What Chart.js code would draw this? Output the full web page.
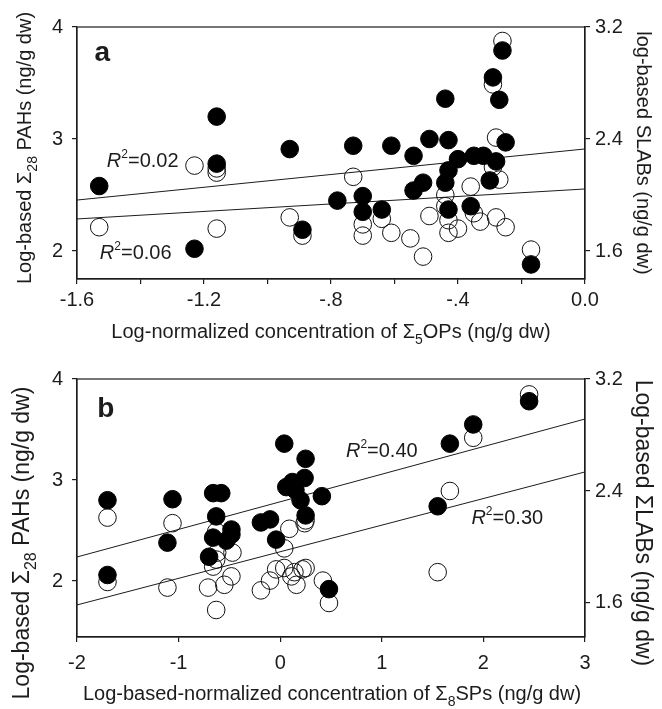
<!DOCTYPE html>
<html lang="en">

<head>
    <meta charset="UTF-8">
    <title>PAHs and LABs vs OPs / SPs</title>
    <script src="https://cdn.jsdelivr.net/npm/chart.js"></script>
    <style>
        body { margin: 0; background: #fff; }
        .panel { position: absolute; left: 0; width: 662px; }
        #boxA { top: 0; height: 345px; }
        #boxB { top: 345px; height: 364px; }
    </style>
</head>

<body>
    <div class="panel" id="boxA"><canvas id="chartA"></canvas></div>
    <div class="panel" id="boxB"><canvas id="chartB"></canvas></div>

    <script>
        // ---- data: [x, y] ----
        // panel a: x = log-normalized Σ5OPs
        const opsPah = [
            [-1.53, 2.58], [-1.16, 3.20], [-1.16, 2.78], [-1.23, 2.02], [-0.93, 2.91], [-0.89, 2.19],
            [-0.73, 2.94], [-0.61, 2.94], [-0.54, 2.85], [-0.49, 3.00], [-0.43, 2.99], [-0.25, 2.97],
            [-0.40, 2.82], [-0.43, 2.72], [-0.44, 2.61], [-0.51, 2.61], [-0.54, 2.54], [-0.35, 2.85],
            [-0.32, 2.85], [-0.28, 2.80], [-0.30, 2.63], [-0.78, 2.45], [-0.70, 2.49], [-0.70, 2.35],
            [-0.64, 2.37], [-0.43, 2.37], [-0.36, 2.40], [-0.17, 1.88], [-0.44, 3.36], [-0.27, 3.35],
            [-0.29, 3.55], [-0.26, 3.79]
        ];
        const opsLab = [
            [-1.53, 1.77], [-1.23, 2.21], [-1.16, 2.19], [-1.16, 2.16], [-1.16, 1.76], [-0.93, 1.84],
            [-0.89, 1.71], [-0.28, 2.41], [-0.73, 2.13], [-0.29, 2.20], [-0.27, 2.11], [-0.36, 2.06],
            [-0.44, 2.00], [-0.44, 1.92], [-0.49, 1.85], [-0.43, 1.82], [-0.40, 1.76], [-0.43, 1.73],
            [-0.35, 1.87], [-0.33, 1.81], [-0.28, 1.84], [-0.25, 1.77], [-0.70, 1.79], [-0.70, 1.71],
            [-0.64, 1.83], [-0.61, 1.73], [-0.55, 1.69], [-0.51, 1.56], [-0.17, 1.61], [-0.29, 2.79],
            [-0.26, 3.10]
        ];
        // regression lines (end points)
        const opsPahFit = [[-1.6, 2.455], [0.0, 2.911]];
        const opsLabFit = [[-1.6, 1.829], [0.0, 2.043]];

        // panel b: x = log-based-normalized Σ8SPs
        const spsPah = [
            [-1.70, 2.80], [-1.06, 2.81], [-1.11, 2.38], [-1.70, 2.06], [0.04, 3.36], [0.25, 3.21],
            [0.06, 2.93], [0.12, 2.98], [0.24, 3.02], [0.15, 2.90], [0.20, 2.80], [0.41, 2.84],
            [0.25, 2.65], [-0.66, 2.87], [-0.58, 2.87], [-0.63, 2.64], [-0.48, 2.51], [-0.48, 2.46],
            [-0.53, 2.40], [-0.66, 2.43], [-0.19, 2.58], [-0.10, 2.61], [-0.04, 2.41], [-0.70, 2.24],
            [0.48, 1.92], [2.45, 3.78], [1.90, 3.55], [1.67, 3.36], [1.55, 2.74]
        ];
        const spsLab = [
            [-1.70, 2.21], [-1.06, 2.17], [-1.70, 1.75], [-1.11, 1.71], [0.09, 2.13], [0.04, 1.99],
            [0.25, 2.19], [0.24, 2.17], [-0.63, 2.11], [-0.47, 1.96], [-0.62, 1.96], [-0.63, 1.91],
            [-0.66, 1.86], [-0.48, 1.79], [-0.55, 1.73], [-0.71, 1.71], [-0.63, 1.55], [-0.19, 1.69],
            [-0.10, 1.76], [-0.04, 1.84], [0.04, 1.85], [0.11, 1.79], [0.16, 1.73], [0.14, 1.82],
            [0.22, 1.84], [0.25, 1.85], [0.42, 1.76], [0.48, 1.60], [2.45, 3.09], [1.90, 2.78],
            [1.67, 2.40], [1.55, 1.82]
        ];
        const spsPahFit = [[-2, 2.238], [3, 3.604]];
        const spsLabFit = [[-2, 1.586], [3, 2.536]];

        // tick values and labels
        const xTicksA = [-1.6, -1.4, -1.2, -1.0, -0.8, -0.6, -0.4, -0.2, 0.0];
        const xLabelsA = ['-1.6', '', '-1.2', '', '-.8', '', '-.4', '', '0.0'];
        const xTicksB = [-2, -1, 0, 1, 2, 3];
        const xLabelsB = ['-2', '-1', '0', '1', '2', '3'];
        const pahTicks = [2, 3, 4];
        const labTicks = [1.6, 2.4, 3.2];
        const labTickLabels = ['1.6', '2.4', '3.2'];

        const FONT = '"Liberation Sans", Arial, Helvetica, sans-serif';
        const INK = '#1c1c1c';

        function toPts(arr) { return arr.map(p => ({ x: p[0], y: p[1] })); }

        // draw a row of text pieces (for sub/superscripts and italics)
        function drawRuns(ctx, runs, x, y, rot, align) {
            ctx.save();
            ctx.translate(x, y);
            ctx.rotate(rot || 0);
            ctx.fillStyle = INK;
            ctx.textBaseline = 'alphabetic';
            ctx.textAlign = 'left';
            const fontOf = r => (r.italic ? 'italic ' : '') + (r.bold ? 'bold ' : '') + r.size + 'px ' + FONT;
            let total = 0;
            runs.forEach(r => { ctx.font = fontOf(r); r.w = ctx.measureText(r.t).width; total += r.w; });
            let cx = align === 'left' ? 0 : -total / 2;
            runs.forEach(r => {
                ctx.font = fontOf(r);
                ctx.fillText(r.t, cx, r.dy || 0);
                cx += r.w;
            });
            ctx.restore();
        }

        function r2(val, size) {
            return [
                { t: 'R', size: size, italic: true },
                { t: '2', size: Math.round(size * 0.62), dy: -9 },
                { t: '=' + val, size: size }
            ];
        }

        // text items: data anchored (at: [x, y]) or pixel anchored (px: [x, y])
        function textPlugin(items) {
            return {
                id: 'texts',
                afterDraw(chart) {
                    const ctx = chart.ctx, ca = chart.chartArea;
                    ctx.save();
                    ctx.strokeStyle = INK;
                    ctx.lineWidth = 1.2;
                    ctx.strokeRect(ca.left, ca.top, ca.right - ca.left, ca.bottom - ca.top);
                    ctx.restore();
                    items.forEach(it => {
                        let x, y;
                        if (it.at) {
                            x = chart.scales.x.getPixelForValue(it.at[0]);
                            y = chart.scales.y.getPixelForValue(it.at[1]);
                        } else {
                            x = it.px[0];
                            y = it.px[1];
                        }
                        drawRuns(ctx, it.runs, x, y, it.rot, it.align);
                    });
                }
            };
        }

        function fixSize(w, h) {
            return function (scale) {
                if (w !== undefined) scale.width = w;
                if (h !== undefined) scale.height = h;
            };
        }

        function makeChart(id, cfg) {
            const tickFont = { family: FONT, size: 20 };
            const gridOpts = { display: true, drawOnChartArea: false, drawTicks: true, tickLength: 5, color: INK, lineWidth: 1.2 };
            const borderOpts = { display: true, color: INK, width: 1.2 };
            return new Chart(document.getElementById(id), {
                data: {
                    datasets: [
                        {
                            type: 'scatter', label: 'PAHs', data: toPts(cfg.pah), yAxisID: 'y',
                            backgroundColor: '#000', borderColor: '#000', borderWidth: 1, pointRadius: 8.8
                        },
                        {
                            type: 'scatter', label: 'LABs', data: toPts(cfg.lab), yAxisID: 'y2',
                            backgroundColor: 'rgba(255,255,255,0)', borderColor: '#111', borderWidth: 1, pointRadius: 8.8
                        },
                        {
                            type: 'line', label: 'PAHs fit', data: toPts(cfg.pahFit), yAxisID: 'y',
                            borderColor: INK, borderWidth: 1, pointRadius: 0, fill: false, tension: 0
                        },
                        {
                            type: 'line', label: 'LABs fit', data: toPts(cfg.labFit), yAxisID: 'y2',
                            borderColor: INK, borderWidth: 1, pointRadius: 0, fill: false, tension: 0
                        }
                    ]
                },
                options: {
                    responsive: true,
                    maintainAspectRatio: false,
                    animation: false,
                    layout: { padding: { top: cfg.padTop, left: 0, right: 0, bottom: 0 } },
                    plugins: { legend: { display: false }, tooltip: { enabled: false } },
                    scales: {
                        x: {
                            type: 'linear', min: cfg.xTicks[0], max: cfg.xTicks[cfg.xTicks.length - 1],
                            afterBuildTicks: s => { s.ticks = cfg.xTicks.map(v => ({ value: v })); },
                            afterFit: fixSize(undefined, cfg.xHeight),
                            ticks: {
                                font: tickFont, color: INK, padding: cfg.xPad, maxRotation: 0, autoSkip: false,
                                callback: (v, i) => cfg.xLabels[i]
                            },
                            grid: gridOpts, border: borderOpts
                        },
                        y: {
                            type: 'linear', position: 'left', min: cfg.yMin, max: 4,
                            afterBuildTicks: s => { s.ticks = pahTicks.map(v => ({ value: v })); },
                            afterFit: fixSize(77),
                            ticks: { font: tickFont, color: INK, padding: 9, callback: v => String(v) },
                            grid: gridOpts, border: borderOpts
                        },
                        y2: {
                            type: 'linear', position: 'right', min: cfg.y2Min, max: 3.2,
                            afterBuildTicks: s => { s.ticks = labTicks.map(v => ({ value: v })); },
                            afterFit: fixSize(77),
                            ticks: { font: tickFont, color: INK, padding: 5, callback: (v, i) => labTickLabels[i] },
                            grid: gridOpts, border: borderOpts
                        }
                    }
                },
                plugins: [textPlugin(cfg.texts)]
            });
        }

        // panel a
        makeChart('chartA', {
            pah: opsPah, lab: opsLab, pahFit: opsPahFit, labFit: opsLabFit,
            xTicks: xTicksA, xLabels: xLabelsA,
            yMin: 1.75, y2Min: 1.4, padTop: 27, xHeight: 66, xPad: 4,
            texts: [
                { at: [-1.545, 3.70], runs: [{ t: 'a', size: 28, bold: true }], align: 'left' },
                { at: [-1.506, 2.75], runs: r2('0.02', 20), align: 'left' },
                { at: [-1.528, 1.93], runs: r2('0.06', 20), align: 'left' },
                {
                    px: [331, 338], runs: [
                        { t: 'Log-normalized concentration of Σ', size: 20 },
                        { t: '5', size: 14, dy: 6 },
                        { t: 'OPs (ng/g dw)', size: 20 }
                    ]
                },
                {
                    px: [31, 148], rot: -Math.PI / 2, runs: [
                        { t: 'Log-based Σ', size: 20 },
                        { t: '28', size: 14, dy: 6 },
                        { t: ' PAHs (ng/g dw)', size: 20 }
                    ]
                },
                {
                    px: [637, 153], rot: Math.PI / 2, runs: [
                        { t: 'log-based SLABs (ng/g dw)', size: 20 }
                    ]
                }
            ]
        });

        // panel b
        makeChart('chartB', {
            pah: spsPah, lab: spsLab, pahFit: spsPahFit, labFit: spsLabFit,
            xTicks: xTicksB, xLabels: xLabelsB,
            yMin: 1.446, y2Min: 1.357, padTop: 34, xHeight: 72, xPad: 9,
            texts: [
                { at: [-1.80, 3.62], runs: [{ t: 'b', size: 28, bold: true }], align: 'left' },
                { at: [0.647, 3.228], runs: r2('0.40', 20), align: 'left' },
                { at: [1.882, 2.564], runs: r2('0.30', 20), align: 'left' },
                {
                    px: [332, 355], runs: [
                        { t: 'Log-based-normalized concentration of Σ', size: 20 },
                        { t: '8', size: 14, dy: 6 },
                        { t: 'SPs (ng/g dw)', size: 20 }
                    ]
                },
                {
                    px: [29, 198], rot: -Math.PI / 2, runs: [
                        { t: 'Log-based Σ', size: 23 },
                        { t: '28', size: 16, dy: 7 },
                        { t: ' PAHs (ng/g dw)', size: 23 }
                    ]
                },
                {
                    px: [636, 178], rot: Math.PI / 2, runs: [
                        { t: 'Log-based ΣLABs (ng/g dw)', size: 23 }
                    ]
                }
            ]
        });
    </script>
</body>

</html>
